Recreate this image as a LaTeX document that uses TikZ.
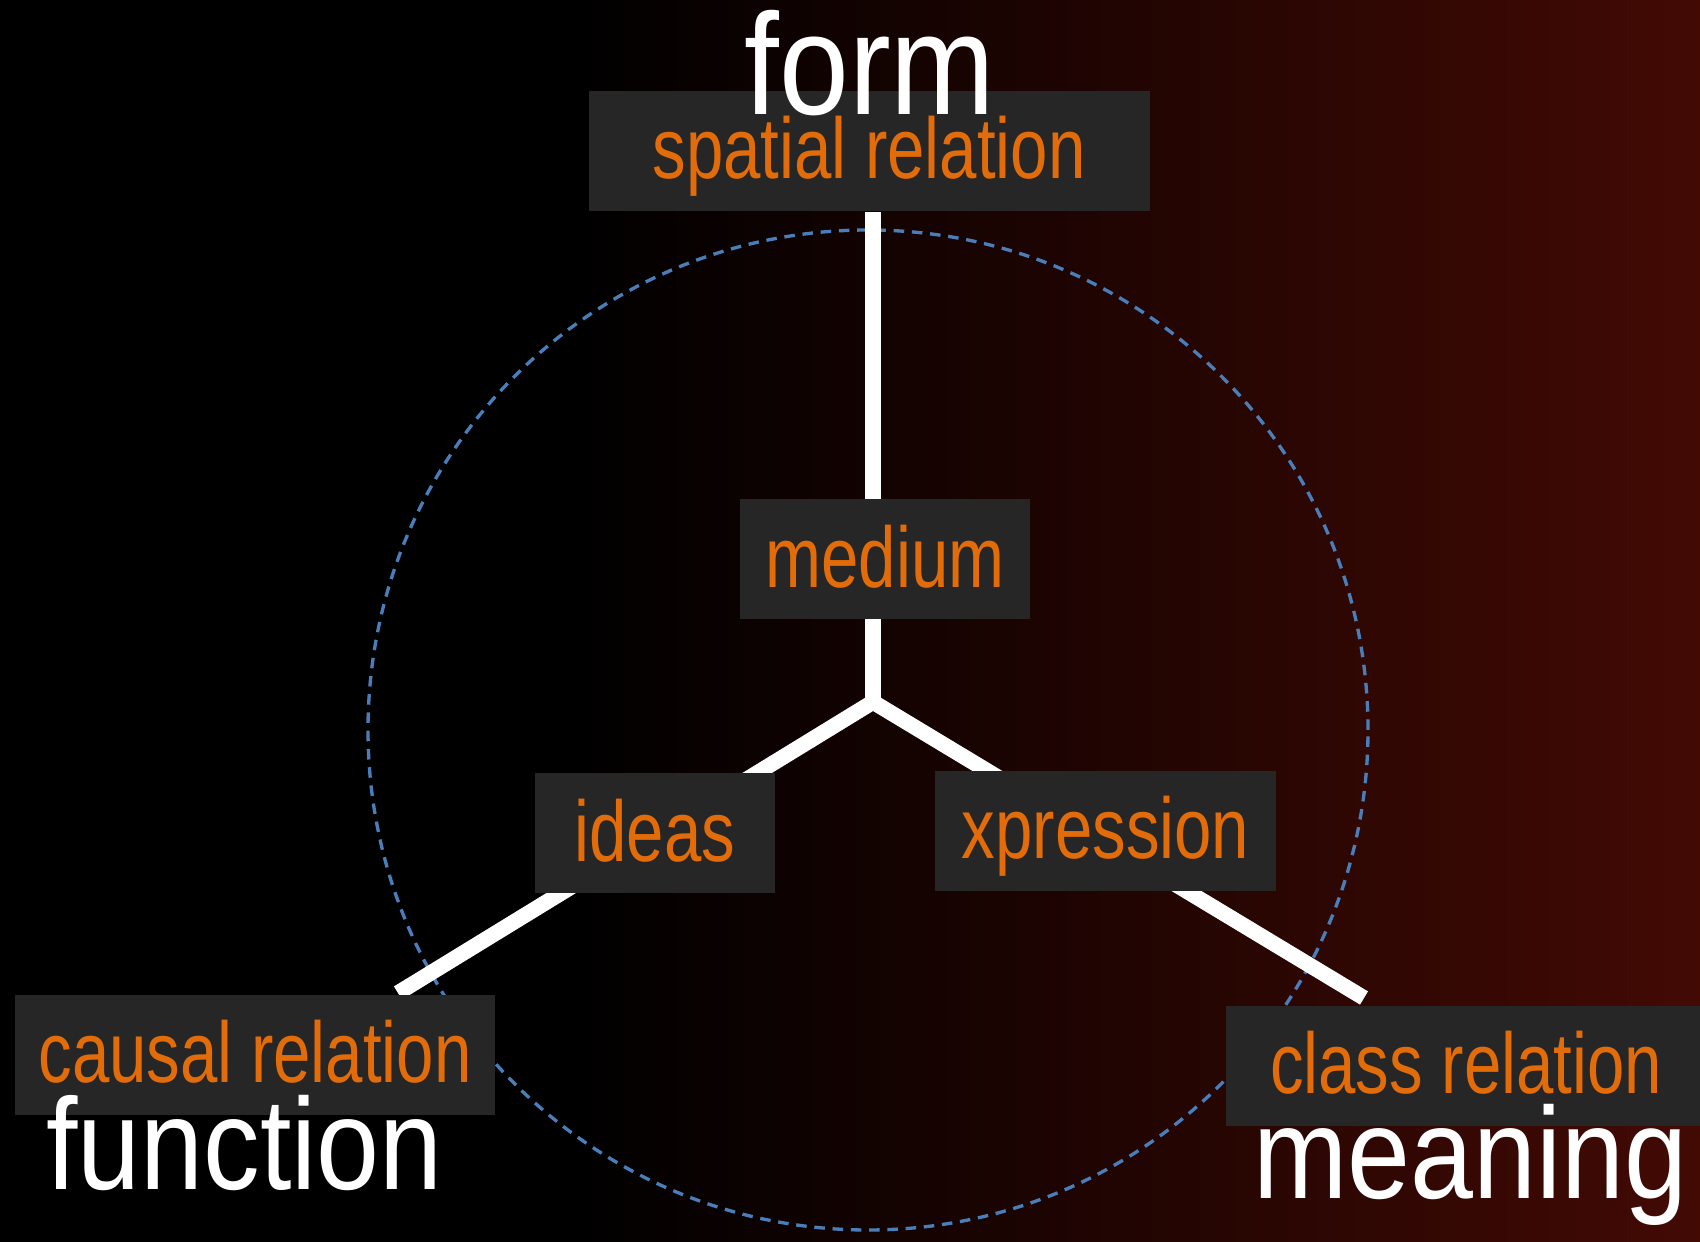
\documentclass[tikz,border=0pt]{standalone}
\usepackage{fontspec}
\usepackage{tikz}
\newfontfamily\wordfont[FakeStretch=0.87]{Liberation Sans}
\newfontfamily\tagfont[FakeStretch=0.78]{Liberation Sans}
\pgfdeclarelayer{bg}
\pgfdeclarelayer{lines}
\pgfsetlayers{bg,lines,main}
\tikzset{tagbox/.style = {fill = mgray, text = morange, inner sep = 0,
                          minimum height = 1.2cm, text height = 0.66cm, text depth = 0.10cm,
                          font = \tagfont\fontsize{24.5}{29}\selectfont}}
\tikzset{bigword/.style = {text = white, inner sep = 0, anchor = base,
                           font = \wordfont\fontsize{37}{44}\selectfont}}
\tikzset{spoke/.style = {white, line width = 4.4pt, line join = miter}}
\tikzset{ring/.style = {mblue, line width = 0.95pt, dash pattern = on 3pt off 2.2pt}}
\definecolor{mgray}{RGB}{38,38,38}
\definecolor{morange}{RGB}{227,108,10}
\definecolor{mblue}{RGB}{74,126,187}
\definecolor{mred}{RGB}{68,10,4}

\begin{document}
\begin{tikzpicture}
    \useasboundingbox (0, 0) rectangle (17, 12.41);

    \node [tagbox, minimum width = 5.61cm] (spatial) at (8.69, 10.90) {spatial relation};
    \node [tagbox, minimum width = 2.90cm] (medium) at (8.85, 6.815) {medium};
    \node [tagbox, minimum width = 2.40cm] (ideas) at (6.55, 4.075) {ideas};
    \node [tagbox, minimum width = 3.41cm] (xpression) at (11.055, 4.10) {xpression};
    \node [tagbox, minimum width = 4.80cm] (causal) at (2.55, 1.86) {causal relation};
    \node [tagbox, minimum width = 4.80cm] (class) at (14.66, 1.75) {class relation};

    \node [bigword, font = \wordfont\fontsize{41}{48}\selectfont] (form) at (8.70, 11.26) {form};
    \node [bigword] (function) at (2.445, 0.52) {function};
    \node [bigword] (meaning) at (14.705, 0.43) {meaning};

    \coordinate (hub) at (8.73, 5.39);
    \coordinate (funend) at (3.98, 2.48);
    \coordinate (meanend) at (13.64, 2.43);

    \begin{pgfonlayer}{bg}
      \fill [black] (-0.2, -0.2) rectangle (5.7, 12.6);
      \shade [left color = black, right color = mred] (5.65, -0.2) rectangle (17.2, 12.6);
      \draw [ring] (8.68, 5.11) circle (5);
    \end{pgfonlayer}

    \begin{pgfonlayer}{lines}
      \draw [spoke] (hub) -- (hub |- spatial.south);
      \draw [spoke] (funend) -- (hub) -- (meanend);
    \end{pgfonlayer}
  \end{tikzpicture}
\end{document}
